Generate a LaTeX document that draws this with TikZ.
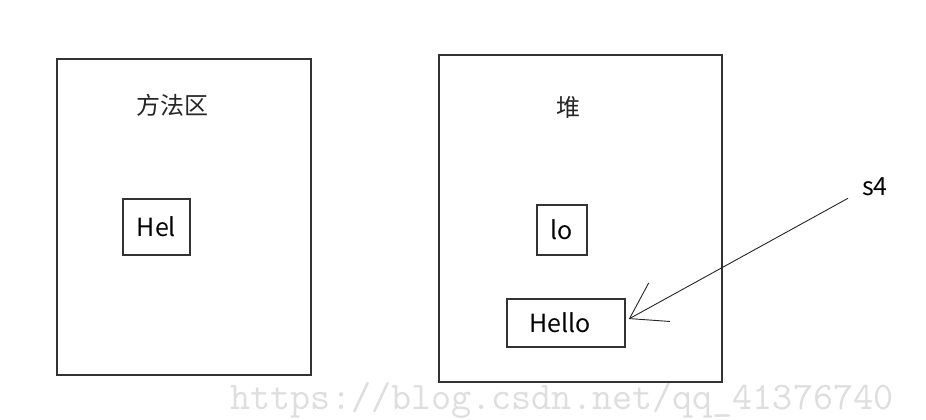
\documentclass[tikz,border=0pt]{standalone}
\usepackage{fontspec}
\setmainfont{Noto Sans CJK SC}
\usetikzlibrary{arrows.meta, positioning}

\begin{document}
\begin{tikzpicture}
    [
        x=1pt, y=-1pt,
        area/.style = {
            draw=black!80, line width=1.6pt, inner sep=0pt
        },
        cell/.style = {
            draw=black!80, line width=1.6pt, inner sep=0pt,
            font=\fontsize{25}{30}\selectfont
        },
        title/.style = {
            font=\fontsize{24}{28}\selectfont, text=black!85
        },
        ref/.style = {
            draw=black!85, line width=0.9pt,
            -{Straight Barb[length=34pt, width=44pt]}
        },
    ]
    \useasboundingbox[fill=white] (0,0) rectangle (926,420);
    % watermark
    \node[text=black!13, font=\ttfamily\fontsize{39}{42}\selectfont] (mark) at (562,400) {https://blog.csdn.net/qq\_41376740};
    % method area
    \node[area, minimum width=254pt, minimum height=316pt] (method) at (184,217) {};
    \node[title] (methodname) at (172,105) {方法区};
    \node[cell, minimum width=67pt, minimum height=56pt] (hel) at (156.5,227) {Hel};
    % heap
    \node[area, minimum width=283pt, minimum height=327pt] (heap) at (580.5,218.5) {};
    \node[title] (heapname) at (568,107) {堆};
    \node[cell, minimum width=50pt, minimum height=50pt] (lo) at (562,230) {lo};
    \node[cell, minimum width=118pt, minimum height=48pt] (hello) at (566,323) {Hello\kern12pt};
    % reference
    \node[font=\fontsize{25}{30}\selectfont, inner sep=0pt] (s4) at (875,187) {s4};
    \draw[ref] ([xshift=-14pt, yshift=-2pt]s4.south west) -- ([xshift=3pt, yshift=4pt]hello.east);
\end{tikzpicture}
\end{document}
